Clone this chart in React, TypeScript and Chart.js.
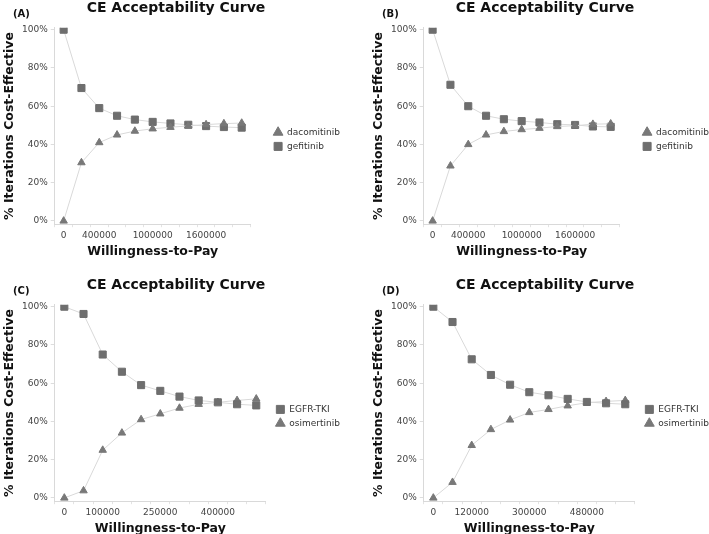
import { useEffect, useRef } from "react"
import { Chart, registerables, layouts } from "chart.js"

Chart.register(...registerables)
Chart.defaults.font.family = "'DejaVu Sans', Verdana, sans-serif"

// willingness-to-pay steps per panel
const wtpAB = [0, 200000, 400000, 600000, 800000, 1000000, 1200000, 1400000, 1600000, 1800000, 2000000]
const wtpC = [0, 50000, 100000, 150000, 200000, 250000, 300000, 350000, 400000, 450000, 500000]
const wtpD = [0, 60000, 120000, 180000, 240000, 300000, 360000, 420000, 480000, 540000, 600000]

// x tick labels that are printed
const ticksAB = ["0", "400000", "1000000", "1600000"]
const ticksC = ["0", "100000", "250000", "400000"]
const ticksD = ["0", "120000", "300000", "480000"]

const yTicks = [0, 20, 40, 60, 80, 100]

// % iterations cost-effective
const dacomitinibA = [0, 30.5, 41, 45, 47, 48.2, 49, 49.7, 50.4, 50.9, 51.2]
const gefitinibA = [100, 69.5, 59, 55, 53, 51.8, 51, 50.3, 49.6, 49.1, 48.8]
const dacomitinibB = [0, 28.8, 40, 45, 46.8, 47.8, 48.5, 49.4, 49.8, 50.6, 50.8]
const gefitinibB = [100, 71.2, 60, 55, 53.2, 52.2, 51.5, 50.6, 50.2, 49.4, 49.2]
const egfrC = [100, 96.2, 75, 66, 59, 56, 53, 51, 50, 49, 48.4]
const osimertinibC = [0, 3.8, 25, 34, 41, 44, 47, 49, 50, 51, 51.8]
const egfrD = [100, 92, 72.5, 64.3, 59.2, 55.3, 53.7, 51.8, 50.2, 49.5, 49]
const osimertinibD = [0, 8.2, 27.5, 35.8, 40.8, 44.7, 46.3, 48.2, 49.8, 50.5, 51]

const SQUARE = "#6e6e6e"
const TRIANGLE = "#787878"

// empty layout box that keeps some space between the plot and the legend
const legendGap = (size: number) => ({
  id: "legendGap",
  beforeInit(chart: any) {
    const box: any = {
      position: "right",
      weight: 500,
      fullSize: false,
      options: { display: false },
      left: 0,
      top: 0,
      right: 0,
      bottom: 0,
      width: 0,
      height: 0,
      isHorizontal: () => false,
      update(_w: number, h: number) {
        this.width = size
        this.height = h
      },
      draw() {},
    }
    layouts.addBox(chart, box)
  },
})

interface Series {
  name: string
  values: number[]
  shape: "rect" | "triangle"
}

interface PanelProps {
  letter: string
  wtp: number[]
  shown: string[]
  series: Series[]
  gap: number
  left: number
  top: number
}

function Panel({ letter, wtp, shown, series, gap, left, top }: PanelProps) {
  const canvasRef = useRef<HTMLCanvasElement>(null)

  useEffect(() => {
    if (!canvasRef.current) return
    const labels = wtp.map(String)

    const chart = new Chart(canvasRef.current, {
      type: "line",
      plugins: [legendGap(gap)],
      data: {
        labels,
        datasets: series.map((s) => {
          const color = s.shape === "rect" ? SQUARE : TRIANGLE
          const r = s.shape === "rect" ? 5 : 4.3
          return {
            label: s.name,
            data: s.values,
            pointStyle: s.shape,
            borderColor: "#d9d9d9",
            borderWidth: 1,
            pointRadius: r,
            pointHoverRadius: r,
            pointBackgroundColor: color,
            pointBorderColor: color,
            pointBorderWidth: 1,
            tension: 0,
          }
        }),
      },
      options: {
        responsive: false,
        animation: false,
        layout: { padding: { left: 2, right: 0, top: 0, bottom: 3 } },
        plugins: {
          title: {
            display: true,
            text: "CE Acceptability Curve",
            color: "#111",
            font: { size: 14, weight: "bold" },
            padding: { top: 0, bottom: 11 },
          },
          legend: {
            position: "right",
            align: "center",
            title: { display: true, text: "", font: { size: 9 }, padding: { top: 9, bottom: 0 } },
            labels: {
              usePointStyle: true,
              boxHeight: 8,
              padding: 5,
              color: "#333",
              font: { size: 9 },
            },
          },
          tooltip: { enabled: false },
        },
        scales: {
          x: {
            type: "category",
            offset: true,
            grid: { display: true, drawOnChartArea: false, tickLength: 3, color: "#e3e3e3", offset: true },
            border: { color: "#d9d9d9" },
            ticks: {
              autoSkip: false,
              maxRotation: 0,
              minRotation: 0,
              padding: 3,
              color: "#444",
              font: { size: 9 },
              callback: (_v: any, i: number) => (shown.includes(labels[i]) ? labels[i] : ""),
            },
            title: {
              display: true,
              text: "Willingness-to-Pay",
              color: "#111",
              font: { size: 12.5, weight: "bold" },
              padding: { top: 0, bottom: 0 },
            },
          },
          y: {
            min: -1.7,
            max: 101,
            afterBuildTicks: (scale: any) => {
              scale.ticks = yTicks.map((v) => ({ value: v }))
            },
            grid: { drawOnChartArea: false, tickLength: 4, color: "#dddddd" },
            border: { color: "#d9d9d9" },
            ticks: {
              padding: 3,
              color: "#444",
              font: { size: 9 },
              callback: (v: any) => v + "%",
            },
            title: {
              display: true,
              text: "% Iterations Cost-Effective",
              color: "#111",
              font: { size: 12.5, weight: "bold" },
              padding: { top: 0, bottom: 2 },
            },
          },
        },
      },
    } as any)

    return () => chart.destroy()
  }, [])

  return (
    <div style={{ position: "absolute", left, top, width: 350, height: 262 }}>
      <canvas ref={canvasRef} width={350} height={262} style={{ display: "block" }} />
      <div
        style={{
          position: "absolute",
          left: 13,
          top: 8,
          font: "bold 10px 'DejaVu Sans', Verdana, sans-serif",
          color: "#111",
        }}
      >
        ({letter})
      </div>
    </div>
  )
}

export default function App() {
  return (
    <div style={{ position: "absolute", left: 0, top: 0, width: 709, height: 534, overflow: "hidden", background: "#fff" }}>
      <Panel
        letter="A"
        wtp={wtpAB}
        shown={ticksAB}
        gap={18}
        left={0}
        top={0}
        series={[
          { name: "dacomitinib", values: dacomitinibA, shape: "triangle" },
          { name: "gefitinib", values: gefitinibA, shape: "rect" },
        ]}
      />
      <Panel
        letter="B"
        wtp={wtpAB}
        shown={ticksAB}
        gap={18}
        left={369}
        top={0}
        series={[
          { name: "dacomitinib", values: dacomitinibB, shape: "triangle" },
          { name: "gefitinib", values: gefitinibB, shape: "rect" },
        ]}
      />
      <Panel
        letter="C"
        wtp={wtpC}
        shown={ticksC}
        gap={5}
        left={0}
        top={277}
        series={[
          { name: "EGFR-TKI", values: egfrC, shape: "rect" },
          { name: "osimertinib", values: osimertinibC, shape: "triangle" },
        ]}
      />
      <Panel
        letter="D"
        wtp={wtpD}
        shown={ticksD}
        gap={5}
        left={369}
        top={277}
        series={[
          { name: "EGFR-TKI", values: egfrD, shape: "rect" },
          { name: "osimertinib", values: osimertinibD, shape: "triangle" },
        ]}
      />
    </div>
  )
}
